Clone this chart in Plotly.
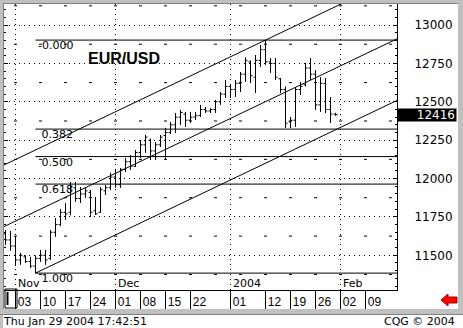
import plotly.graph_objects as go
import pandas as pd

# ---------------- data ----------------
dates = ["2003-10-30", "2003-10-31",
         "2003-11-03", "2003-11-04", "2003-11-05", "2003-11-06", "2003-11-07",
         "2003-11-10", "2003-11-11", "2003-11-12", "2003-11-13", "2003-11-14",
         "2003-11-17", "2003-11-18", "2003-11-19", "2003-11-20", "2003-11-21",
         "2003-11-24", "2003-11-25", "2003-11-26", "2003-11-27", "2003-11-28",
         "2003-12-01", "2003-12-02", "2003-12-03", "2003-12-04", "2003-12-05",
         "2003-12-08", "2003-12-09", "2003-12-10", "2003-12-11", "2003-12-12",
         "2003-12-15", "2003-12-16", "2003-12-17", "2003-12-18", "2003-12-19",
         "2003-12-22", "2003-12-23", "2003-12-24", "2003-12-25", "2003-12-26",
         "2003-12-29", "2003-12-30", "2003-12-31",
         "2004-01-01", "2004-01-02",
         "2004-01-05", "2004-01-06", "2004-01-07", "2004-01-08", "2004-01-09",
         "2004-01-12", "2004-01-13", "2004-01-14", "2004-01-15", "2004-01-16",
         "2004-01-19", "2004-01-20", "2004-01-21", "2004-01-22", "2004-01-23",
         "2004-01-26", "2004-01-27", "2004-01-28", "2004-01-29", "2004-01-30"]
opens = [11640, 11600, 11560, 11470, 11490, 11460, 11430, 11480, 11500, 11480, 11650, 11700,
         11780, 11780, 11940, 11870, 11900, 11910, 11790, 11780, 11920, 11940,
         12010, 11960, 12060, 12110, 12080, 12170, 12220, 12250, 12180, 12220,
         12280, 12300, 12350, 12400, 12420, 12380, 12400, 12410, 12450, 12440,
         12450, 12500, 12550, 12600, 12580, 12620, 12680, 12760, 12660, 12770,
         12840, 12760, 12750, 12650, 12580, 12370, 12380, 12580, 12610, 12720,
         12680, 12480, 12620, 12450, 12420]
highs = [11665, 11659, 11626, 11516, 11500, 11490, 11500, 11535, 11535, 11665, 11743, 11802,
         11840, 11978, 11978, 11945, 11939, 11926, 11880, 11945, 11958, 12037,
         12056, 12069, 12134, 12154, 12186, 12251, 12284, 12260, 12238, 12284,
         12330, 12369, 12427, 12447, 12434, 12434, 12434, 12480, 12467, 12460,
         12512, 12564, 12642, 12610, 12642, 12694, 12790, 12770, 12805, 12870,
         12902, 12785, 12785, 12655, 12600, 12401, 12596, 12629, 12753, 12785,
         12707, 12661, 12655, 12531, 12428]
lows = [11568, 11529, 11431, 11438, 11450, 11418, 11384, 11457, 11438, 11470, 11620, 11690,
        11730, 11760, 11848, 11841, 11874, 11750, 11763, 11776, 11893, 11926,
        11939, 11939, 12043, 12056, 12076, 12134, 12167, 12121, 12121, 12206,
        12121, 12290, 12297, 12349, 12336, 12362, 12382, 12401, 12427, 12427,
        12427, 12480, 12525, 12525, 12531, 12564, 12630, 12622, 12557, 12727,
        12740, 12688, 12642, 12557, 12329, 12329, 12336, 12544, 12600, 12642,
        12447, 12434, 12427, 12362, 12408]
closes = [11600, 11560, 11470, 11500, 11460, 11430, 11480, 11500, 11470, 11650, 11700, 11780,
          11770, 11950, 11870, 11900, 11920, 11780, 11770, 11930, 11940, 12010,
          11960, 12060, 12110, 12080, 12170, 12220, 12270, 12180, 12220, 12270,
          12300, 12350, 12400, 12430, 12380, 12400, 12410, 12450, 12440, 12450,
          12500, 12550, 12600, 12580, 12620, 12680, 12770, 12670, 12770, 12840,
          12760, 12750, 12660, 12580, 12360, 12380, 12580, 12600, 12720, 12680,
          12480, 12620, 12450, 12420, 12416]

week_tick_dates = ["2003-11-03", "2003-11-10", "2003-11-17", "2003-11-24", "2003-12-01",
                   "2003-12-08", "2003-12-15", "2003-12-22", "2004-01-01", "2004-01-12",
                   "2004-01-19", "2004-01-26", "2004-02-02", "2004-02-09"]
week_tick_labels = ["03", "10", "17", "24", "01", "08", "15", "22", "01", "12", "19", "26", "02", "09"]
month_dates = ["2003-11-03", "2003-12-01", "2004-01-01", "2004-02-02"]
month_labels = ["Nov", "Dec", "2004", "Feb"]
price_ticks = [11500, 11750, 12000, 12250, 12500, 12750, 13000]
fib_ratios = [0.0, 0.382, 0.5, 0.618, 1.0]
fib_labels = ["-0.000", "\u00a00.382", "\u00a00.500", "\u00a00.618", "\u00a01.000"]
channel_slope = 15.56          # price units per bar
symbol = "EUR/USD"
stamp = "Thu Jan 29 2004 17:42:51"
copyright_text = "CQG \u00a9 2004"

# ---------------- geometry helpers (pixels -> paper) ----------------
W, H = 463, 328
PL, PR, PT, PB = 4, 397, 4, 290
def px(x):
    return (x - PL) / (PR - PL)
def py(y):
    return (PB - y) / (PB - PT)

days = pd.bdate_range("2003-10-30", "2004-02-27")
pos = {d.strftime("%Y-%m-%d"): i for i, d in enumerate(days)}
xs = [pos[d] for d in dates]
X0, X1 = -0.3, 78.3
Y0, Y1 = 11274, 13137

hi = max(highs); lo = min(lows)
x_hi = xs[highs.index(hi)]; x_lo = xs[lows.index(lo)]

fig = go.Figure()
fig.add_trace(go.Ohlc(x=xs, open=opens, high=highs, low=lows, close=closes,
                      increasing=dict(line=dict(color="black", width=1)),
                      decreasing=dict(line=dict(color="black", width=1)),
                      tickwidth=0.4, hoverinfo="skip", showlegend=False))

# parallel trend channel
def upper(x): return hi + channel_slope * (x - x_hi)
def lower(x): return lo + channel_slope * (x - x_lo)
fig.add_trace(go.Scatter(x=[X0, X1], y=[upper(X0), upper(X1)], mode="lines",
                         line=dict(color="black", width=1), hoverinfo="skip", showlegend=False))
fig.add_trace(go.Scatter(x=[X0, X1], y=[(upper(X0) + lower(X0)) / 2, (upper(X1) + lower(X1)) / 2],
                         mode="lines", line=dict(color="black", width=1), hoverinfo="skip", showlegend=False))
fig.add_trace(go.Scatter(x=[x_lo, X1], y=[lower(x_lo), lower(X1)], mode="lines",
                         line=dict(color="black", width=1), hoverinfo="skip", showlegend=False))

shapes = []
annotations = []
# fibonacci retracement levels
for r, lab in zip(fib_ratios, fib_labels):
    lvl = hi - r * (hi - lo)
    shapes.append(dict(type="line", xref="x", yref="y", x0=x_lo, x1=X1, y0=lvl, y1=lvl,
                       line=dict(color="black", width=1)))
    annotations.append(dict(x=x_lo, y=lvl, xref="x", yref="y", text=lab, showarrow=False,
                            xanchor="left", yanchor="top", xshift=0, yshift=3,
                            font=dict(family="DejaVu Sans", size=11, color="black")))

# intermediate sparse grid (half steps)
for i in range(len(price_ticks) + 1):
    lvl = price_ticks[0] - 125 + 250 * i
    shapes.append(dict(type="line", xref="paper", yref="y", x0=0, x1=1, y0=lvl, y1=lvl,
                       line=dict(color="black", width=1, dash="0px,10px,3px,12px"), layer="below"))
# month separators
for d, lab in zip(month_dates, month_labels):
    shapes.append(dict(type="line", xref="x", yref="paper", x0=pos[d], x1=pos[d], y0=0, y1=1,
                       line=dict(color="black", width=1, dash="1px,4px"), layer="below"))
    annotations.append(dict(x=pos[d], y=py(283), xref="x", yref="paper", text=lab, showarrow=False,
                            xanchor="left", yanchor="middle", xshift=0,
                            font=dict(family="DejaVu Sans", size=11, color="black")))

# frame
def rect(x0, y0, x1, y1, color):
    shapes.append(dict(type="rect", xref="paper", yref="paper", x0=px(x0), x1=px(x1),
                       y0=py(y1), y1=py(y0), fillcolor=color, line=dict(width=0), layer="above"))
rect(0, 0, W, 3, "#c0c0c0")
rect(0, 3, W, 4, "#808080")
rect(0, 0, 3, 328, "#c0c0c0")
rect(3, 3, 4, 309, "#808080")
rect(458, 0, W, 309, "#c0c0c0")
rect(0, 309, W, 314, "#c0c0c0")
rect(0, 314, W, 315, "#808080")
# cursor box in the date row
shapes.append(dict(type="rect", xref="paper", yref="paper", x0=px(5), x1=px(17), y0=py(308), y1=py(289),
                   line=dict(color="black", width=1), fillcolor="rgba(0,0,0,0)"))
shapes.append(dict(type="line", xref="paper", yref="paper", x0=px(7.5), x1=px(7.5), y0=py(305), y1=py(292),
                   line=dict(color="black", width=2)))
# red arrow
pts = [(441, 300), (448, 294), (448, 297), (457, 297), (457, 303), (448, 303), (448, 306)]
path = "M " + " L ".join(f"{px(a):.5f},{py(b):.5f}" for a, b in pts) + " Z"
shapes.append(dict(type="path", xref="paper", yref="paper", path=path, fillcolor="#ff0000",
                   line=dict(color="#a00000", width=1)))

annotations.append(dict(x=px(86), y=py(58.5), xref="paper", yref="paper", text=symbol, showarrow=False,
                        xanchor="left", yanchor="middle",
                        font=dict(family="Liberation Sans", size=16, color="black", weight="bold")))
annotations.append(dict(x=1, y=closes[-1], xref="paper", yref="y", text=str(closes[-1]), showarrow=False,
                        xanchor="left", yanchor="middle", bgcolor="black", width=56, height=10,
                        align="right", borderpad=1,
                        font=dict(family="DejaVu Sans", size=12, color="white")))
annotations.append(dict(x=px(1), y=py(321), xref="paper", yref="paper", text=stamp, showarrow=False,
                        xanchor="left", yanchor="middle",
                        font=dict(family="DejaVu Sans", size=11, color="black")))
annotations.append(dict(x=px(457), y=py(321), xref="paper", yref="paper", text=copyright_text,
                        showarrow=False, xanchor="right", yanchor="middle",
                        font=dict(family="DejaVu Sans", size=11, color="black")))

fig.update_layout(
    width=W, height=H, margin=dict(l=PL, r=W - PR, t=PT, b=H - PB),
    paper_bgcolor="white", plot_bgcolor="white", showlegend=False,
    shapes=shapes, annotations=annotations,
    xaxis=dict(range=[X0, X1], rangeslider=dict(visible=False),
               tickmode="array", tickvals=[pos[d] for d in week_tick_dates], ticktext=week_tick_labels,
               ticks="outside", ticklen=18, tickcolor="black", tickwidth=1,
               ticklabelshift=9, ticklabelstandoff=-17,
               tickfont=dict(family="Liberation Sans", size=12, color="black"),
               showgrid=False, zeroline=False, showline=True, linecolor="black", mirror=True,
               fixedrange=True),
    yaxis=dict(range=[Y0, Y1], side="right", tickmode="array", tickvals=price_ticks,
               ticktext=[str(v) for v in price_ticks],
               ticks="inside", ticklen=4, tickcolor="black", ticklabelstandoff=14,
               tickfont=dict(family="DejaVu Sans", size=12, color="black"),
               showgrid=True, gridcolor="black", gridwidth=1, griddash="1px,4px",
               minor=dict(tickmode="linear", tick0=0, dtick=50, ticks="inside", ticklen=2,
                          tickcolor="black", showgrid=False),
               zeroline=False, showline=True, linecolor="black", mirror="ticks", fixedrange=True),
)
fig.write_html("out.html")
